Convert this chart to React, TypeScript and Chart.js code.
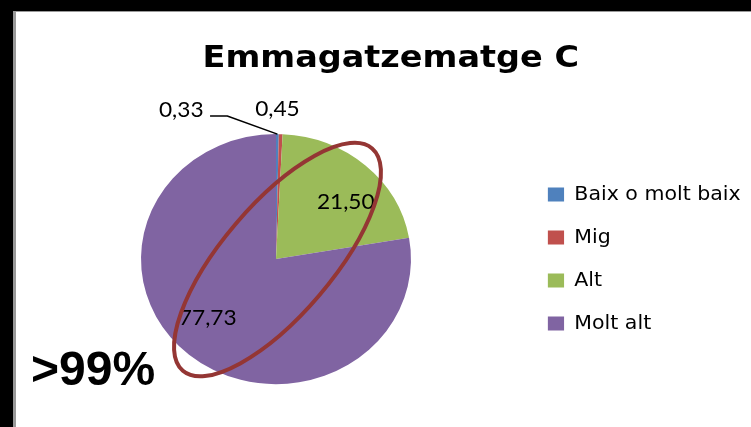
import { useEffect, useRef } from "react";
import { Chart, registerables } from "chart.js";

Chart.register(...registerables);

// ---- data ----
const categories = ["Baix o molt baix", "Mig", "Alt", "Molt alt"];
const values = [0.33, 0.45, 21.5, 77.73];
const colors = ["#4F81BD", "#C0504D", "#9BBB59", "#8064A2"];
const titleText = "Emmagatzematge C";
const noteText = ">99%";

const fmt = (v: number) => v.toFixed(2).replace(".", ",");

// ---- rendering constants ----
const SX = 1.08; // horizontal stretch of the original picture
const LABEL_ROT = (7 * Math.PI) / 180;
const INSIDE_FRACTION = 0.69;
const LABEL_FONT = "21px Lato";
const NOTE_FONT = 'bold 48px "Liberation Sans"';
const labelPlacement = [
  { outside: true, dx: -89, dy: -24, leader: true },
  { outside: true, dx: -3, dy: -25, leader: false },
  { outside: false },
  { outside: false },
];

const stretchPlugin = {
  id: "stretch",
  beforeDraw(chart: any) {
    chart.ctx.save();
    chart.ctx.scale(SX, 1);
  },
  afterDraw(chart: any) {
    const ctx = chart.ctx;
    ctx.restore();
    const arc = chart.getDatasetMeta(0).data[0] as any;
    if (!arc) return;
    const cx = arc.x * SX;
    const cy = arc.y;
    // highlight ellipse
    ctx.save();
    ctx.beginPath();
    ctx.ellipse(cx + 1.5, cy + 0.5, 146, 55, (-49.6 * Math.PI) / 180, 0, Math.PI * 2);
    ctx.strokeStyle = "#943634";
    ctx.lineWidth = 4;
    ctx.stroke();
    ctx.restore();
    // note text
    ctx.save();
    ctx.font = NOTE_FONT + ", Arial, sans-serif";
    ctx.fillStyle = "#000";
    ctx.textAlign = "left";
    ctx.textBaseline = "alphabetic";
    ctx.fillText(noteText, 15, 373);
    ctx.restore();
  },
};

const labelsPlugin = {
  id: "sliceLabels",
  afterDatasetsDraw(chart: any) {
    const ctx = chart.ctx;
    const meta = chart.getDatasetMeta(0);
    ctx.save();
    ctx.font = LABEL_FONT + ', "DejaVu Sans", sans-serif';
    ctx.fillStyle = "#000";
    ctx.textAlign = "center";
    ctx.textBaseline = "middle";
    meta.data.forEach((el: any, i: number) => {
      const p = el.getProps(["x", "y", "startAngle", "endAngle", "outerRadius"], true);
      const mid = (p.startAngle + p.endAngle) / 2;
      const text = fmt(values[i]);
      const place: any = labelPlacement[i];
      if (place.outside) {
        const ex = p.x + Math.cos(mid) * p.outerRadius;
        const ey = p.y + Math.sin(mid) * p.outerRadius;
        const lx = ex + place.dx;
        const ly = ey + place.dy;
        ctx.fillText(text, lx, ly);
        if (place.leader) {
          const w = ctx.measureText(text).width;
          const sx = lx + w / 2 + 6;
          const sy = ly + 6;
          ctx.beginPath();
          ctx.moveTo(sx, sy);
          ctx.lineTo(sx + 16, sy);
          ctx.lineTo(ex, ey);
          ctx.strokeStyle = "#000";
          ctx.lineWidth = 1.5;
          ctx.stroke();
        }
      } else {
        const a = mid + LABEL_ROT;
        const r = p.outerRadius * INSIDE_FRACTION;
        ctx.fillText(text, p.x + Math.cos(a) * r, p.y + Math.sin(a) * r);
      }
    });
    ctx.restore();
  },
};

export default function App() {
  const ref = useRef<HTMLCanvasElement | null>(null);

  useEffect(() => {
    document.body.style.margin = "0";
    let chart: Chart | null = null;
    let cancelled = false;
    const build = () => {
      if (cancelled || !ref.current) return;
      chart = new Chart(ref.current, {
        type: "pie",
        data: {
          labels: categories,
          datasets: [
            {
              data: values,
              backgroundColor: colors,
              borderWidth: 0,
              radius: 125,
            } as any,
          ],
        },
        options: {
          animation: false,
          responsive: true,
          maintainAspectRatio: false,
          events: [],
          layout: { padding: { left: 13, right: 54, top: 0, bottom: 0 } },
          plugins: {
            title: {
              display: true,
              text: titleText,
              color: "#000",
              font: { family: '"DejaVu Sans"', size: 31, weight: "bold" },
              padding: { top: 28, bottom: 14 },
            },
            legend: {
              position: "right",
              fullSize: false,
              labels: {
                boxWidth: 15,
                boxHeight: 14,
                padding: 24,
                color: "#000",
                font: { family: '"DejaVu Sans"', size: 19 },
              },
            },
            tooltip: { enabled: false },
          },
        },
        plugins: [stretchPlugin, labelsPlugin],
      });
    };
    const fonts: any = (document as any).fonts;
    if (fonts && fonts.load) {
      Promise.all([
        fonts.load(LABEL_FONT),
        fonts.load(NOTE_FONT),
        fonts.load('bold 31px "DejaVu Sans"'),
        fonts.load('19px "DejaVu Sans"'),
      ])
        .catch(() => null)
        .then(build);
    } else {
      build();
    }
    return () => {
      cancelled = true;
      if (chart) chart.destroy();
    };
  }, []);

  return (
    <div style={{ position: "relative", width: 751, height: 427, overflow: "hidden", background: "#fff" }}>
      <div style={{ position: "absolute", left: 0, top: 0, width: 751, height: 11, background: "#000" }} />
      <div style={{ position: "absolute", left: 13, top: 11, width: 738, height: 1, background: "#999" }} />
      <div style={{ position: "absolute", left: 0, top: 0, width: 13, height: 427, background: "#000" }} />
      <div style={{ position: "absolute", left: 13, top: 11, width: 3, height: 416, background: "#999" }} />
      <div style={{ position: "absolute", left: 16, top: 12, width: 735, height: 415 }}>
        <canvas ref={ref} />
      </div>
    </div>
  );
}
